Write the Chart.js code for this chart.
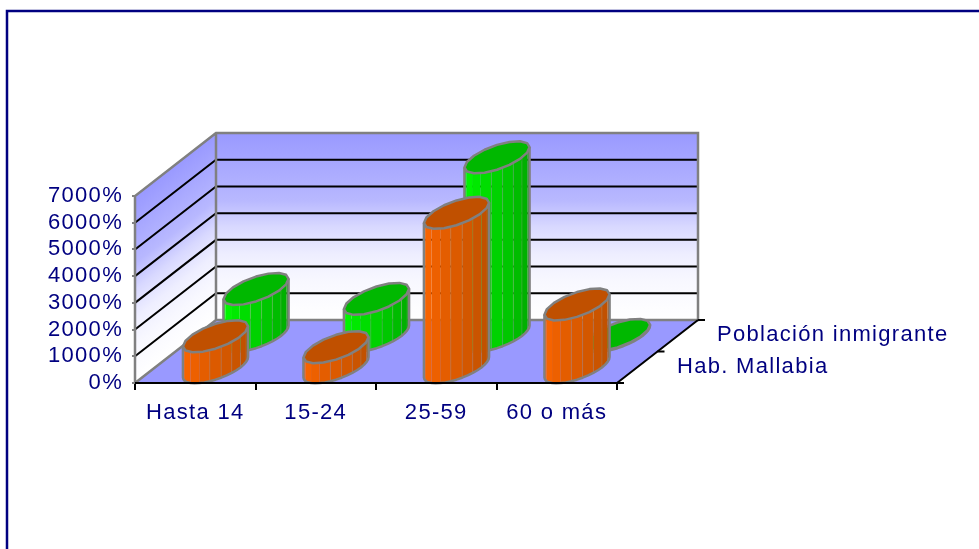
<!DOCTYPE html>
<html lang="es">
  <head>
    <meta charset="UTF-8" />
    <title>Población por edad</title>
    <script src="https://cdn.jsdelivr.net/npm/chart.js"></script>
    <style>
      html, body { margin: 0; padding: 0; background: #fff; overflow: hidden; }
      #wrap { position: relative; width: 979px; height: 549px; }
    </style>
  </head>
  <body>
    <div id="wrap"><canvas id="chart" width="979" height="549"></canvas></div>
    <script>
      const categories = ["Hasta 14", "15-24", "25-59", "60 o más"];
      const habMallabia = [1160, 750, 5780, 2350];
      const poblacionInmigrante = [1750, 1380, 6680, 30];
      const seriesNames = ["Hab. Mallabia", "Población inmigrante"];
      const yMax = 7000;
      const yStep = 1000;

      // depth of the 3d box, in pixels
      const depthX = 81;
      const depthY = 63;
      const NAVY = "#000080";
      const GREY = "#808080";
      const fontFamily = '"Liberation Sans", Arial, sans-serif';
      const spacing = "1.3px";

      const looks = [
        { side: [255, 102, 0], dark: [184, 78, 0], top: "#c05000" },
        { side: [0, 255, 0], dark: [0, 165, 0], top: "#00b800" },
      ];

      function wallStops(grad) {
        grad.addColorStop(0, "#9999ff");
        grad.addColorStop(0.36, "#b8b8ff");
        grad.addColorStop(0.5, "#d8d8ff");
        grad.addColorStop(0.65, "#eeeeff");
        grad.addColorStop(0.8, "#f8f8ff");
        grad.addColorStop(1, "#ffffff");
        return grad;
      }

      function drawWalls(ctx, area, yScale) {
        const { left, right, top, bottom } = area;
        const wallTop = top - depthY;
        const wallBottom = bottom - depthY;

        // back wall
        ctx.fillStyle = wallStops(ctx.createLinearGradient(0, wallTop, 0, wallBottom));
        ctx.fillRect(left + depthX, wallTop, right - left, wallBottom - wallTop);

        // side wall, same gradient sheared along the depth
        ctx.save();
        ctx.transform(1, -depthY / depthX, 0, 1, left, bottom);
        ctx.fillStyle = wallStops(ctx.createLinearGradient(0, top - bottom, 0, 0));
        ctx.fillRect(0, top - bottom, depthX, bottom - top);
        ctx.restore();

        // floor
        ctx.fillStyle = "#9999ff";
        ctx.beginPath();
        ctx.moveTo(left, bottom);
        ctx.lineTo(right, bottom);
        ctx.lineTo(right + depthX, bottom - depthY);
        ctx.lineTo(left + depthX, bottom - depthY);
        ctx.closePath();
        ctx.fill();

        // grid lines on both walls
        ctx.strokeStyle = "#000";
        ctx.lineWidth = 2;
        for (let v = yStep; v < yMax; v += yStep) {
          const y = yScale.getPixelForValue(v);
          ctx.beginPath();
          ctx.moveTo(left, y);
          ctx.lineTo(left + depthX, y - depthY);
          ctx.lineTo(right + depthX, y - depthY);
          ctx.stroke();
        }

        // wall outline
        ctx.strokeStyle = GREY;
        ctx.lineWidth = 2.5;
        ctx.beginPath();
        ctx.moveTo(left, bottom);
        ctx.lineTo(left, top);
        ctx.lineTo(left + depthX, wallTop);
        ctx.lineTo(right + depthX, wallTop);
        ctx.lineTo(right + depthX, wallBottom);
        ctx.lineTo(left + depthX, wallBottom);
        ctx.lineTo(left, bottom);
        ctx.moveTo(left + depthX, wallTop);
        ctx.lineTo(left + depthX, wallBottom);
        ctx.stroke();
      }

      function drawFloorEdges(ctx, area) {
        const { left, right, bottom } = area;
        ctx.strokeStyle = "#000";
        ctx.lineWidth = 2;
        ctx.beginPath();
        ctx.moveTo(left, bottom);
        ctx.lineTo(right, bottom);
        ctx.lineTo(right + depthX, bottom - depthY);
        ctx.stroke();
        // depth ticks
        [0, 0.5, 1].forEach((d) => {
          const x = right + depthX * d;
          const y = bottom - depthY * d;
          ctx.beginPath();
          ctx.moveTo(x, y);
          ctx.lineTo(x + 7, y);
          ctx.stroke();
        });
      }

      function mix(a, b, k) {
        const c = a.map((n, i) => Math.round(n + (b[i] - n) * k));
        return `rgb(${c[0]},${c[1]},${c[2]})`;
      }

      // one cylinder standing on the floor, footprint is a sheared ellipse
      function drawCylinder(ctx, cx, baseY, height, rw, rd, look) {
        const dx = rd * depthX;
        const dy = rd * depthY;
        const point = (t, lift) => [
          cx + rw * Math.cos(t) + dx * Math.sin(t),
          baseY - dy * Math.sin(t) - lift,
        ];
        const t0 = Math.atan2(dx, rw);
        const facets = 9;

        for (let i = 0; i < facets; i++) {
          const a = t0 + Math.PI + (Math.PI * i) / facets;
          const b = t0 + Math.PI + (Math.PI * (i + 1)) / facets;
          const p1 = point(a, 0), p2 = point(b, 0);
          const p3 = point(b, height), p4 = point(a, height);
          ctx.beginPath();
          ctx.moveTo(p1[0], p1[1]);
          ctx.lineTo(p2[0], p2[1]);
          ctx.lineTo(p3[0], p3[1]);
          ctx.lineTo(p4[0], p4[1]);
          ctx.closePath();
          ctx.fillStyle = mix(look.side, look.dark, i / (facets - 1));
          ctx.fill();
          if (i > 3) {
            ctx.strokeStyle = "rgba(150,150,130,0.3)";
            ctx.lineWidth = 1;
            ctx.beginPath();
            ctx.moveTo(p1[0], p1[1]);
            ctx.lineTo(p4[0], p4[1]);
            ctx.stroke();
          }
        }

        // outline of the body
        ctx.strokeStyle = GREY;
        ctx.lineWidth = 2.5;
        ctx.lineJoin = "round";
        ctx.beginPath();
        for (let i = 0; i <= facets * 2; i++) {
          const p = point(t0 + Math.PI + (Math.PI * i) / (facets * 2), 0);
          if (i === 0) {
            const q = point(t0 + Math.PI, height);
            ctx.moveTo(q[0], q[1]);
          }
          ctx.lineTo(p[0], p[1]);
        }
        const q = point(t0, height);
        ctx.lineTo(q[0], q[1]);
        ctx.stroke();

        // top cap
        ctx.beginPath();
        for (let i = 0; i < 16; i++) {
          const p = point(t0 + (Math.PI * 2 * i) / 16, height);
          if (i === 0) ctx.moveTo(p[0], p[1]);
          else ctx.lineTo(p[0], p[1]);
        }
        ctx.closePath();
        ctx.fillStyle = look.top;
        ctx.fill();
        ctx.stroke();
      }

      const box3d = {
        id: "box3d",
        beforeDraw(chart) {
          const ctx = chart.ctx;
          ctx.letterSpacing = spacing;
          // frame around the picture
          ctx.save();
          ctx.strokeStyle = NAVY;
          ctx.lineWidth = 2.5;
          ctx.strokeRect(7, 11, 1000, 600);
          ctx.restore();
        },
        beforeDatasetsDraw(chart) {
          const { ctx, chartArea, scales } = chart;
          ctx.save();
          drawWalls(ctx, chartArea, scales.y);
          const bandW = (chartArea.right - chartArea.left) / categories.length;
          // back row first
          [1, 0].forEach((s) => {
            const depth = s === 0 ? 0.25 : 0.75;
            chart.data.datasets[s].data.forEach((value, i) => {
              const cx = scales.x.getPixelForValue(i) + depthX * depth;
              const baseY = chartArea.bottom - depthY * depth;
              const height = chartArea.bottom - scales.y.getPixelForValue(value);
              drawCylinder(ctx, cx, baseY, height, bandW * 0.209, 0.255, looks[s]);
            });
          });
          drawFloorEdges(ctx, chartArea);
          ctx.restore();
        },
        afterDraw(chart) {
          const { ctx, chartArea } = chart;
          ctx.save();
          ctx.fillStyle = NAVY;
          ctx.font = `22px ${fontFamily}`;
          ctx.textBaseline = "middle";
          ctx.textAlign = "left";
          ctx.fillText(seriesNames[1], 717, chartArea.bottom - depthY * 0.76);
          ctx.fillText(seriesNames[0], 677, chartArea.bottom - depthY * 0.25);
          ctx.restore();
        },
      };

      new Chart(document.getElementById("chart"), {
        type: "bar",
        data: {
          labels: categories,
          datasets: [
            { label: seriesNames[0], data: habMallabia, backgroundColor: "transparent", borderWidth: 0 },
            { label: seriesNames[1], data: poblacionInmigrante, backgroundColor: "transparent", borderWidth: 0 },
          ],
        },
        plugins: [box3d],
        options: {
          responsive: false,
          animation: false,
          layout: { padding: { top: 196, right: 362, bottom: 0, left: 0 } },
          plugins: { legend: { display: false }, tooltip: { enabled: false } },
          scales: {
            x: {
              grid: { drawOnChartArea: false, color: "#000", lineWidth: 2, tickLength: 7 },
              border: { display: false },
              ticks: { color: NAVY, font: { size: 22, family: fontFamily }, padding: 10, maxRotation: 0 },
              afterFit: (s) => { s.height = 166; },
            },
            y: {
              min: 0,
              max: yMax,
              grid: { drawOnChartArea: false, color: GREY, lineWidth: 2, tickLength: 3 },
              border: { display: false },
              ticks: {
                stepSize: yStep,
                autoSkip: false,
                color: NAVY,
                font: { size: 22, family: fontFamily },
                padding: 9,
                callback: (v) => v + "%",
              },
              afterFit: (s) => { s.width = 135; },
            },
          },
        },
      });
    </script>
  </body>
</html>
